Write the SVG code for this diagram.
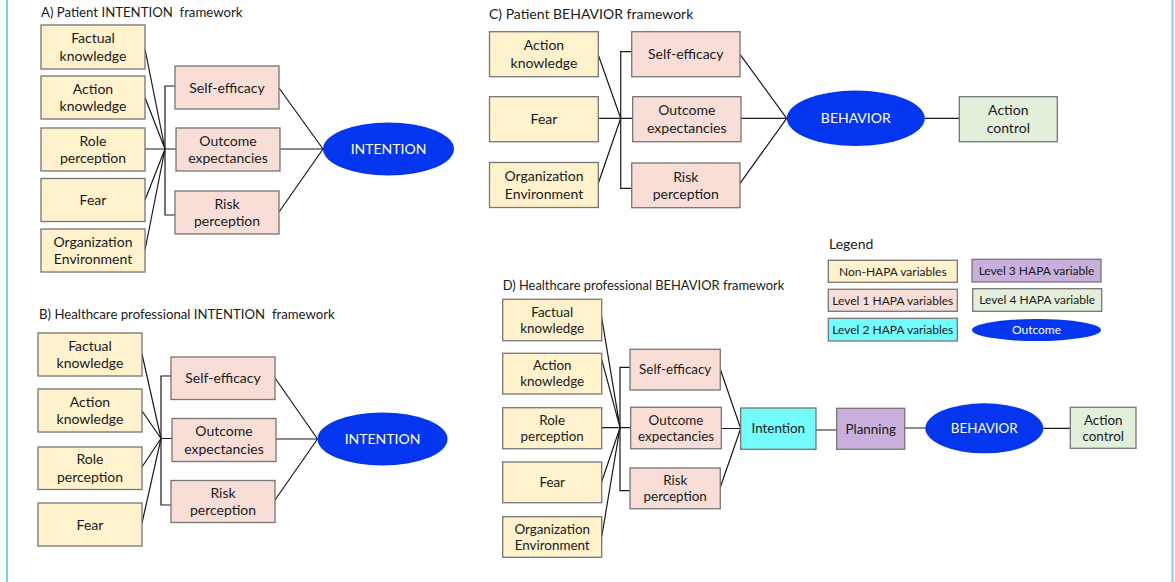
<svg xmlns="http://www.w3.org/2000/svg" width="1175" height="582" viewBox="0 0 1175 582">
<style>
rect.b{stroke:#767676;stroke-width:1.3}
.nh{fill:#fff2cc}
.l1{fill:#f8ded6}
.l2{fill:#74fcfd}
.l3{fill:#c9afdb}
.l4{fill:#e2efda}
.out{fill:#0436ef}
.c path{stroke:#1a1a1a;stroke-width:1.2;fill:none}
text{font-family:Lato,"Liberation Sans",sans-serif;fill:#1a1a1a}
.t{font-size:14px;text-anchor:middle}
.s{font-size:13.4px;text-anchor:middle}
.g{font-size:12px;text-anchor:middle}
.w{fill:#ffffff}
.h{font-size:14px;white-space:pre}
</style>
<rect width="1175" height="582" fill="#ffffff"/>
<path d="M7,0 V582 M1172.5,0 V582" stroke="#7fd3df" stroke-width="2" fill="none"/>

<!-- titles -->
<text class="h" x="41" y="17" style="font-size:13.2px" xml:space="preserve">A) Patient INTENTION  framework</text>
<text class="h" x="39" y="319" style="font-size:13.2px" xml:space="preserve">B) Healthcare professional INTENTION  framework</text>
<text class="h" x="489" y="19">C) Patient BEHAVIOR framework</text>
<text class="h" x="502.7" y="290" style="font-size:12.9px">D) Healthcare professional BEHAVIOR framework</text>
<text class="h" x="829" y="249">Legend</text>

<!-- connectors -->
<g class="c" id="connectors">
<path d="M145,49 L165,149 M145,97.5 L165,149 M145,149 H176 M145,200 L165,149 M145,250 L165,149"/>
<path d="M175,86 H165 V215 H175"/>
<path d="M279,88 L323,149 M280,149 H323 M279,212 L323,149"/>

<path d="M142,354 L161,438.5 M142,411 L161,438.5 M142,467 L161,438.5 M142,523 L161,438.5"/>
<path d="M171,376 H161 V505 H171 M161,438.5 H172"/>
<path d="M275,378 L317.5,439 M276,439 H317.5 M275,500 L317.5,439"/>

<path d="M598.3,55 L620.7,118.3 M598.3,118.3 H632.7 M598.3,183.3 L620.7,118.3"/>
<path d="M631.7,51.7 H620.7 V188.3 H631.7"/>
<path d="M740,54.3 L786.7,118.3 M741,118.3 H786.7 M740,183.3 L786.7,118.3 M924.8,118.3 H959.3"/>

<path d="M601.7,317.7 L620,427.7 M601.7,359.3 L620,427.7 M601.7,427.7 H630.7 M601.7,481.7 L620,427.7 M601.7,536.7 L620,427.7"/>
<path d="M630,367.3 H620 V490.7 H630"/>
<path d="M720.3,369.3 L740.7,428.5 M721.3,428.5 H740.7 M720.3,487.3 L740.7,428.5"/>
<path d="M816,430 H836.7 M904.7,428 H925.3 M1043.3,428.3 H1070.3"/>
</g>

<!-- Panel A -->
<g id="a-factual"><rect class="b nh" x="41" y="25" width="104" height="44"/><text class="t" x="93" y="43.3">Factual</text><text class="t" x="93" y="60.8">knowledge</text></g>
<g id="a-action"><rect class="b nh" x="41" y="76" width="104" height="43"/><text class="t" x="93" y="93.8">Action</text><text class="t" x="93" y="111.3">knowledge</text></g>
<g id="a-role"><rect class="b nh" x="41" y="128" width="104" height="43"/><text class="t" x="93" y="145.8">Role</text><text class="t" x="93" y="163.3">perception</text></g>
<g id="a-fear"><rect class="b nh" x="41" y="178.5" width="104" height="43"/><text class="t" x="93" y="205">Fear</text></g>
<g id="a-org"><rect class="b nh" x="41" y="229" width="104" height="43"/><text class="t" x="93" y="246.8">Organization</text><text class="t" x="93" y="264.3">Environment</text></g>
<g id="a-self"><rect class="b l1" x="175" y="66" width="104" height="43"/><text class="t" x="227" y="92.5">Self-efficacy</text></g>
<g id="a-outcome"><rect class="b l1" x="176" y="128" width="104" height="43"/><text class="t" x="228" y="145.8">Outcome</text><text class="t" x="228" y="163.3">expectancies</text></g>
<g id="a-risk"><rect class="b l1" x="175" y="191" width="104" height="43"/><text class="t" x="227" y="208.8">Risk</text><text class="t" x="227" y="226.3">perception</text></g>
<g id="a-intention"><ellipse class="out" cx="388.5" cy="149" rx="65.5" ry="26.5"/><text class="t w" x="388.5" y="154">INTENTION</text></g>

<!-- Panel B -->
<g id="b-factual"><rect class="b nh" x="38" y="333" width="104" height="43"/><text class="t" x="90" y="350.8">Factual</text><text class="t" x="90" y="368.3">knowledge</text></g>
<g id="b-action"><rect class="b nh" x="38" y="389" width="104" height="43"/><text class="t" x="90" y="406.8">Action</text><text class="t" x="90" y="424.3">knowledge</text></g>
<g id="b-role"><rect class="b nh" x="38" y="447" width="104" height="42.5"/><text class="t" x="90" y="464.3">Role</text><text class="t" x="90" y="481.8">perception</text></g>
<g id="b-fear"><rect class="b nh" x="38" y="503" width="104" height="43"/><text class="t" x="90" y="529.5">Fear</text></g>
<g id="b-self"><rect class="b l1" x="171" y="357" width="104" height="42.5"/><text class="t" x="223" y="383">Self-efficacy</text></g>
<g id="b-outcome"><rect class="b l1" x="172" y="418.5" width="104" height="43"/><text class="t" x="224" y="436.3">Outcome</text><text class="t" x="224" y="453.8">expectancies</text></g>
<g id="b-risk"><rect class="b l1" x="171" y="480.5" width="104" height="42"/><text class="t" x="223" y="497.8">Risk</text><text class="t" x="223" y="515.3">perception</text></g>
<g id="b-intention"><ellipse class="out" cx="382.5" cy="439" rx="65" ry="26.5"/><text class="t w" x="382.5" y="444">INTENTION</text></g>

<!-- Panel C -->
<g id="c-action"><rect class="b nh" x="489.5" y="31.7" width="108.8" height="45"/><text class="t" x="544" y="50.4">Action</text><text class="t" x="544" y="67.9">knowledge</text></g>
<g id="c-fear"><rect class="b nh" x="489.5" y="96.7" width="108.8" height="45"/><text class="t" x="544" y="124.2">Fear</text></g>
<g id="c-org"><rect class="b nh" x="489.5" y="162.5" width="108.8" height="45"/><text class="t" x="544" y="181.2">Organization</text><text class="t" x="544" y="198.7">Environment</text></g>
<g id="c-self"><rect class="b l1" x="631.7" y="31.7" width="108.3" height="45"/><text class="t" x="685.8" y="59.2">Self-efficacy</text></g>
<g id="c-outcome"><rect class="b l1" x="632.7" y="96.7" width="108.3" height="45"/><text class="t" x="686.8" y="115.4">Outcome</text><text class="t" x="686.8" y="132.9">expectancies</text></g>
<g id="c-risk"><rect class="b l1" x="631.7" y="163" width="108.3" height="44.7"/><text class="t" x="685.8" y="181.5">Risk</text><text class="t" x="685.8" y="199">perception</text></g>
<g id="c-behavior"><ellipse class="out" cx="855.8" cy="118.3" rx="69" ry="27.7"/><text class="t w" x="855.8" y="123.3">BEHAVIOR</text></g>
<g id="c-actioncontrol"><rect class="b l4" x="959.3" y="96.7" width="98" height="45"/><text class="t" x="1008.3" y="115.4">Action</text><text class="t" x="1008.3" y="132.9">control</text></g>

<!-- Legend -->
<g id="leg-nonhapa"><rect class="b nh" x="828.3" y="260.3" width="129" height="22"/><text class="g" x="892.8" y="275.5">Non-HAPA variables</text></g>
<g id="leg-level1"><rect class="b l1" x="828.3" y="289.3" width="129" height="22"/><text class="g" x="892.8" y="304.5">Level 1 HAPA variables</text></g>
<g id="leg-level2"><rect class="b l2" x="828.3" y="318.3" width="129" height="22.7"/><text class="g" x="892.8" y="333.9">Level 2 HAPA variables</text></g>
<g id="leg-level3"><rect class="b l3" x="972" y="259.3" width="129" height="22.7"/><text class="g" x="1036.5" y="274.9">Level 3 HAPA variable</text></g>
<g id="leg-level4"><rect class="b l4" x="972.7" y="288.7" width="129" height="22.6"/><text class="g" x="1037.2" y="304.2">Level 4 HAPA variable</text></g>
<g id="leg-outcome"><ellipse class="out" cx="1036.5" cy="330" rx="64.5" ry="11"/><text class="g w" x="1036.5" y="334.2">Outcome</text></g>

<!-- Panel D -->
<g id="d-factual"><rect class="b nh" x="502.7" y="299.3" width="99" height="41.4"/><text class="s" x="552.2" y="316.7">Factual</text><text class="s" x="552.2" y="332.7">knowledge</text></g>
<g id="d-action"><rect class="b nh" x="502.7" y="353.3" width="99" height="40.7"/><text class="s" x="552.2" y="370.4">Action</text><text class="s" x="552.2" y="386.4">knowledge</text></g>
<g id="d-role"><rect class="b nh" x="502.7" y="407.7" width="99" height="41"/><text class="s" x="552.2" y="424.9">Role</text><text class="s" x="552.2" y="440.9">perception</text></g>
<g id="d-fear"><rect class="b nh" x="502.7" y="462" width="99" height="40.7"/><text class="s" x="552.2" y="487">Fear</text></g>
<g id="d-org"><rect class="b nh" x="502.7" y="516.7" width="99" height="40.6"/><text class="s" x="552.2" y="533.7">Organization</text><text class="s" x="552.2" y="549.7">Environment</text></g>
<g id="d-self"><rect class="b l1" x="630" y="349.3" width="90.3" height="40.7"/><text class="s" x="675.2" y="374.4">Self-efficacy</text></g>
<g id="d-outcome"><rect class="b l1" x="630.7" y="407.3" width="90.6" height="41.4"/><text class="s" x="676" y="424.7">Outcome</text><text class="s" x="676" y="440.7">expectancies</text></g>
<g id="d-risk"><rect class="b l1" x="630" y="468" width="90.3" height="40.7"/><text class="s" x="675.2" y="485">Risk</text><text class="s" x="675.2" y="501">perception</text></g>
<g id="d-intention"><rect class="b l2" x="740.7" y="408" width="75.3" height="41.3"/><text class="s" x="778.3" y="433.4">Intention</text></g>
<g id="d-planning"><rect class="b l3" x="836.7" y="408.3" width="68" height="41"/><text class="s" x="870.7" y="433.5">Planning</text></g>
<g id="d-behavior"><ellipse class="out" cx="984.3" cy="428.3" rx="59" ry="25"/><text class="s w" x="984.3" y="433">BEHAVIOR</text></g>
<g id="d-actioncontrol"><rect class="b l4" x="1070.3" y="407.3" width="65.7" height="41"/><text class="s" x="1103.2" y="424.5">Action</text><text class="s" x="1103.2" y="440.5">control</text></g>
</svg>
